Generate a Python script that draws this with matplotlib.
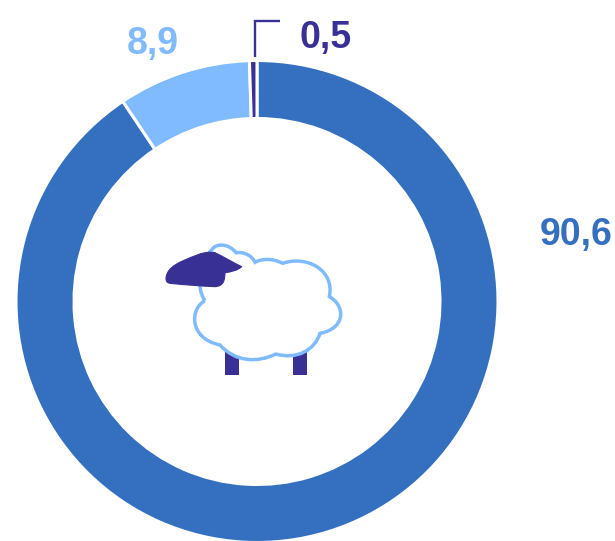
import matplotlib
matplotlib.use("Agg")
import matplotlib.pyplot as plt
from matplotlib.path import Path
from matplotlib.patches import PathPatch, Rectangle

values = [90.6, 8.9, 0.5]
labels = ["90,6", "8,9", "0,5"]
colors = ["#3570C0", "#80BBFF", "#393096"]

W, H = 615, 541
fig = plt.figure(figsize=(W / 100, H / 100), dpi=100)
ax = fig.add_axes([0, 0, 1, 1])

# The y axis is inverted, so the pie mirrors: angle 270 is the top of the page
# and increasing angles run clockwise on the page.
ax.pie(values, colors=colors, startangle=270, counterclock=True,
       center=(257, 301.5), radius=241, frame=True,
       wedgeprops=dict(width=58, edgecolor="white", linewidth=2.2))
ax.set_xlim(0, W)
ax.set_ylim(H, 0)
ax.set_aspect("equal")
ax.axis("off")

font = dict(family="Liberation Sans", fontweight="bold", fontsize=27, va="center", ha="center")
ax.text(576.5, 235, labels[0], color=colors[0], **font)
ax.text(153, 44, labels[1], color=colors[1], **font)
ax.text(325.5, 38, labels[2], color=colors[2], **font)

# Leader for the smallest slice
ax.plot([255, 255, 280], [57, 20.5, 20.5], color=colors[2], lw=1.7, solid_joinstyle="miter",
        solid_capstyle="butt")


def z(x, y):
    return (150 + x / 3, 230 + y / 3)


def bezier(segments, close=False):
    verts = [z(*segments[0][0])]
    codes = [Path.MOVETO]
    for c in segments:
        verts += [z(*p) for p in c[1:]]
        codes += [Path.CURVE4] * 3
    if close:
        verts.append(verts[0])
        codes.append(Path.CLOSEPOLY)
    return Path(verts, codes)


# Sheep icon: legs, fleece, head
for zx in (225, 428):
    x0, y0 = z(zx, 360)
    ax.add_patch(Rectangle((x0, y0), 43 / 3, 75 / 3, facecolor=colors[2], edgecolor="none", zorder=3))

fleece = [
    ((165, 212), (120, 235), (115, 325), (210, 345)),
    ((210, 345), (255, 395), (320, 400), (378, 372)),
    ((378, 372), (440, 390), (495, 360), (510, 310)),
    ((510, 310), (590, 295), (585, 225), (538, 200)),
    ((538, 200), (555, 120), (470, 75), (398, 100)),
    ((398, 100), (370, 85), (335, 85), (315, 97)),
    ((315, 97), (305, 75), (280, 65), (258, 68)),
    ((258, 68), (235, 38), (195, 40), (185, 60)),
    ((185, 60), (150, 90), (135, 170), (165, 212)),
]
ax.add_patch(PathPatch(bezier(fleece), facecolor="white", edgecolor=colors[1], lw=2.5, zorder=4))

head = [
    ((48, 145), (50, 120), (70, 105), (100, 92)),
    ((100, 92), (130, 80), (160, 62), (195, 68)),
    ((195, 68), (220, 80), (250, 98), (275, 110)),
    ((275, 110), (262, 122), (245, 125), (225, 128)),
    ((225, 128), (224, 150), (222, 168), (195, 170)),
    ((195, 170), (150, 168), (110, 165), (60, 160)),
    ((60, 160), (50, 158), (48, 152), (48, 145)),
]
ax.add_patch(PathPatch(bezier(head, close=True), facecolor=colors[2], edgecolor=colors[2],
                       lw=0.8, joinstyle="round", zorder=5))

fig.savefig("out.png", dpi=100, facecolor="white")
